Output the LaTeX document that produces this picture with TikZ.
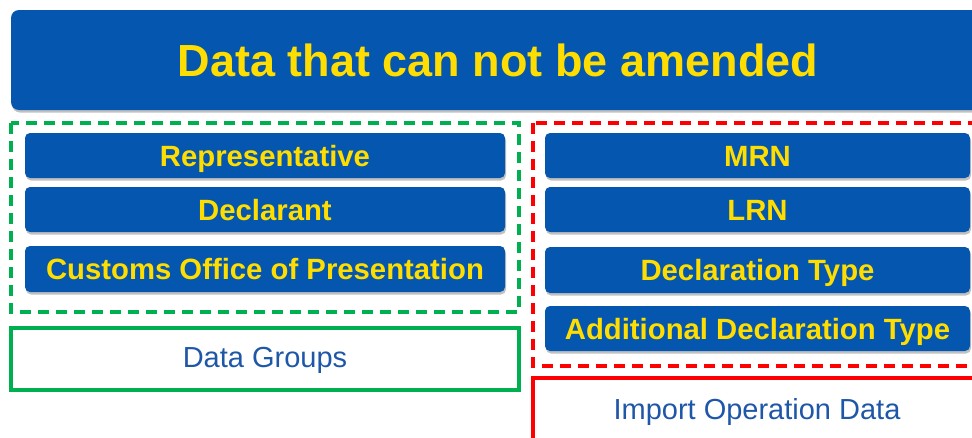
\documentclass[tikz,border=0pt]{standalone}
\usepackage{fontspec}
\setmainfont{Liberation Sans}
\usetikzlibrary{shadows}
\definecolor{boxblue}{HTML}{0456AE}
\definecolor{txtyellow}{HTML}{FFDD00}
\definecolor{grn}{HTML}{00B050}
\definecolor{labblue}{HTML}{1F57A8}
\tikzset{
  shd/.style={drop shadow={shadow xshift=1pt,shadow yshift=-2.5pt,opacity=0.35,fill=black!70}},
  titlebox/.style={shd,fill=boxblue,rounded corners=8pt,inner sep=0pt,text=txtyellow,font=\fontsize{45}{50}\selectfont\bfseries,text height=32.4pt,text depth=0pt},
  item/.style={shd,fill=boxblue,rounded corners=5pt,inner sep=0pt,text=txtyellow,font=\fontsize{29.3}{32}\selectfont\bfseries,text height=21pt,text depth=0pt},
  grpdash/.style={draw=grn,line width=3.8pt,dash pattern=on 11pt off 7pt},
  opdash/.style={draw=red,line width=3.8pt,dash pattern=on 11pt off 7pt},
  label/.style={inner sep=0pt,text=labblue,font=\fontsize{29}{32}\selectfont,text height=20.9pt,text depth=0pt},
}
\begin{document}
\begin{tikzpicture}[x=1pt,y=-1pt]
\useasboundingbox (0,0) rectangle (972,437);
\clip (0,0) rectangle (972,437);
% title
\node[titlebox,minimum width=974pt,minimum height=100pt] (title) at (498,60) {Data that can not be amended};
% group frames
\draw[grpdash] (11,123) rectangle (519,312);
\node[draw=grn,line width=3.8pt,minimum width=508pt,minimum height=62pt,inner sep=0pt] (dg) at (265,359) {};
\node[label] (dgl) at (265,357) {Data Groups};
\draw[opdash] (533,123) rectangle (990,366);
\node[draw=red,line width=3.8pt,minimum width=457pt,minimum height=70pt,inner sep=0pt] (iod) at (761.5,413) {};
\node[label] (iodl) at (757,409) {Import Operation Data};
% left items
\node[item,minimum width=480pt,minimum height=45pt] (rep) at (265,155.5) {Representative};
\node[item,minimum width=480pt,minimum height=45pt] (dec) at (265,209.5) {Declarant};
\node[item,minimum width=480pt,minimum height=46pt] (cop) at (265,269) {Customs Office of Presentation};
% right items
\node[item,minimum width=425pt,minimum height=45pt] (mrn) at (757.5,155.5) {MRN};
\node[item,minimum width=425pt,minimum height=45pt] (lrn) at (757.5,209.5) {LRN};
\node[item,minimum width=425pt,minimum height=46pt] (dt) at (757.5,270) {Declaration Type};
\node[item,minimum width=425pt,minimum height=45pt] (adt) at (757.5,328.5) {Additional Declaration Type};
\end{tikzpicture}
\end{document}
